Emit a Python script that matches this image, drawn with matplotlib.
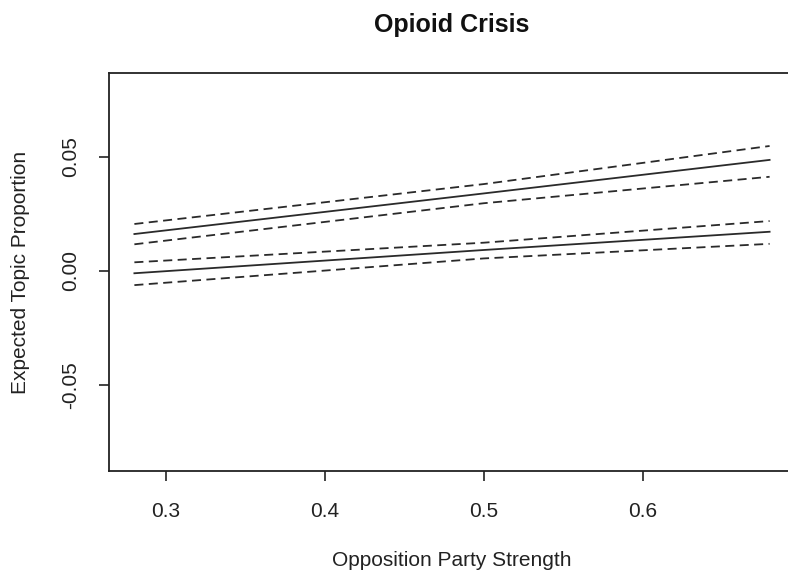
import numpy as np
import matplotlib
matplotlib.use("Agg")
import matplotlib.pyplot as plt

plt.rcParams['font.family'] = ['Liberation Sans', 'DejaVu Sans']

# opposition party strength grid and expected topic proportions
strength = [0.28, 0.50, 0.68]

# upper group: estimate with 95% bounds
upper_est = [0.0161, 0.0339, 0.0486]
upper_hi = [0.0205, 0.0380, 0.0547]
upper_lo = [0.0116, 0.0296, 0.0412]

# lower group: estimate with 95% bounds
lower_est = [-0.0011, 0.0091, 0.0171]
lower_hi = [0.0037, 0.0123, 0.0218]
lower_lo = [-0.0063, 0.0054, 0.0118]

xticks = [0.3, 0.4, 0.5, 0.6]
yticks = [-0.05, 0.00, 0.05]
ytick_labels = ['-0.05', '0.00', '0.05']

fig = plt.figure(figsize=(7.88, 5.78), dpi=100)
ax = fig.add_axes([0.1383, 0.1851, 0.8706, 0.6886])

line_col = '#2a2a2a'
for est, hi, lo in [(upper_est, upper_hi, upper_lo), (lower_est, lower_hi, lower_lo)]:
    ax.plot(strength, est, color=line_col, lw=1.3)
    ax.plot(strength, hi, color=line_col, lw=1.3, dashes=(5, 3))
    ax.plot(strength, lo, color=line_col, lw=1.3, dashes=(5, 3))

ax.set_xlim(0.264, 0.696)
ax.set_ylim(-0.0878, 0.0867)

ax.set_xticks(xticks)
ax.set_xticklabels([str(t) for t in xticks])
ax.set_yticks(yticks)
ax.set_yticklabels(ytick_labels, rotation=90, va='center')

for s in ax.spines.values():
    s.set_linewidth(1.3)
    s.set_color('#222222')
ax.tick_params(direction='out', length=7, width=1.2, color='#222222',
               labelsize=15, labelcolor='#222222', pad=14)
ax.tick_params(axis='x', pad=15.5)

ax.set_xlabel('Opposition Party Strength', fontsize=15, color='#222222')
ax.set_ylabel('Expected Topic Proportion', fontsize=15, color='#222222')
ax.xaxis.label.set_va('center')
ax.yaxis.label.set_va('center')
ax.xaxis.set_label_coords(0.5, -0.226)
ax.yaxis.set_label_coords(-0.1297, 0.5)
ax.set_title('Opioid Crisis', fontsize=18, fontweight='bold', color='#111111', pad=29.5)

fig.savefig('out.png', dpi=100)
